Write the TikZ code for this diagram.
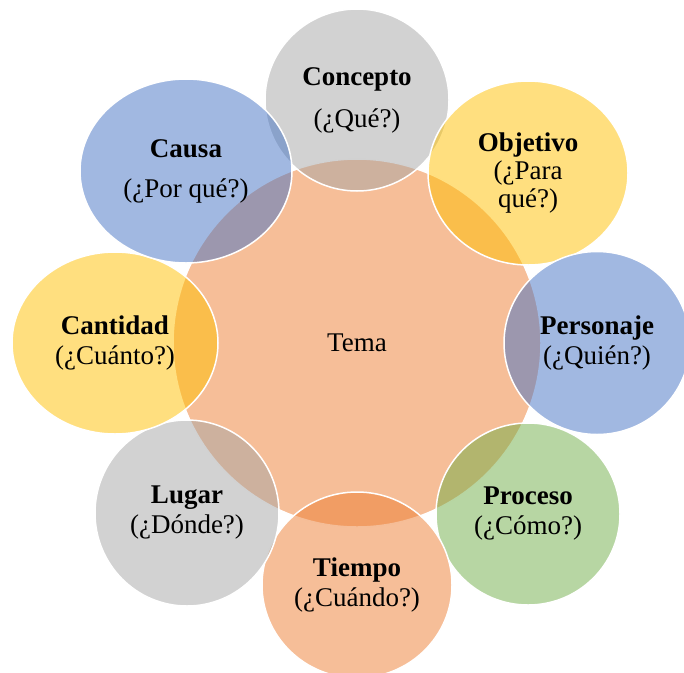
\documentclass[tikz,border=0pt]{standalone}
\usepackage{fontspec}
\setmainfont{Liberation Serif}
\usetikzlibrary{shapes.geometric}
\definecolor{tgray}{RGB}{165,165,165}
\definecolor{tgold}{RGB}{255,192,0}
\definecolor{tblue}{RGB}{68,114,196}
\definecolor{tgreen}{RGB}{112,173,71}
\definecolor{torange}{RGB}{237,125,49}

\begin{document}
\begin{tikzpicture}[x=1pt,y=-1pt,
  bubble/.style={ellipse,draw=white,line width=1.5pt,fill opacity=0.5,text opacity=1,
    inner sep=0pt,align=center,font=\fontsize{27}{30}\selectfont}]
\useasboundingbox (0,0) rectangle (684,672);
\node[bubble,fill=torange,minimum width=368pt,minimum height=368pt] (tema) at (357,343) {Tema};
\node[bubble,fill=tgray,minimum width=184pt,minimum height=182pt] (concepto) at (357,100) {\textbf{Concepto}\\[12pt](¿Qué?)};
\node[bubble,fill=tgold,minimum width=200pt,minimum height=184pt] (objetivo) at (528,173) {\textbf{Objetivo}\\[-2pt](¿Para\\[-2pt]qué?)};
\node[bubble,fill=tblue,minimum width=186pt,minimum height=183pt] (personaje) at (597,343) {\textbf{Personaje}\\(¿Quién?)};
\node[bubble,fill=tgreen,minimum width=184pt,minimum height=182pt] (proceso) at (528,514) {\textbf{Proceso}\\(¿Cómo?)};
\node[bubble,fill=torange,minimum width=190pt,minimum height=186pt] (tiempo) at (357,585) {\textbf{Tiempo}\\(¿Cuándo?)};
\node[bubble,fill=tgray,minimum width=184pt,minimum height=186pt] (lugar) at (187,513) {\textbf{Lugar}\\(¿Dónde?)};
\node[bubble,fill=tgold,minimum width=206pt,minimum height=182pt] (cantidad) at (115,343) {\textbf{Cantidad}\\(¿Cuánto?)};
\node[bubble,fill=tblue,minimum width=212pt,minimum height=184pt] (causa) at (186,171) {\textbf{Causa}\\[10pt](¿Por qué?)};
\end{tikzpicture}
\end{document}
